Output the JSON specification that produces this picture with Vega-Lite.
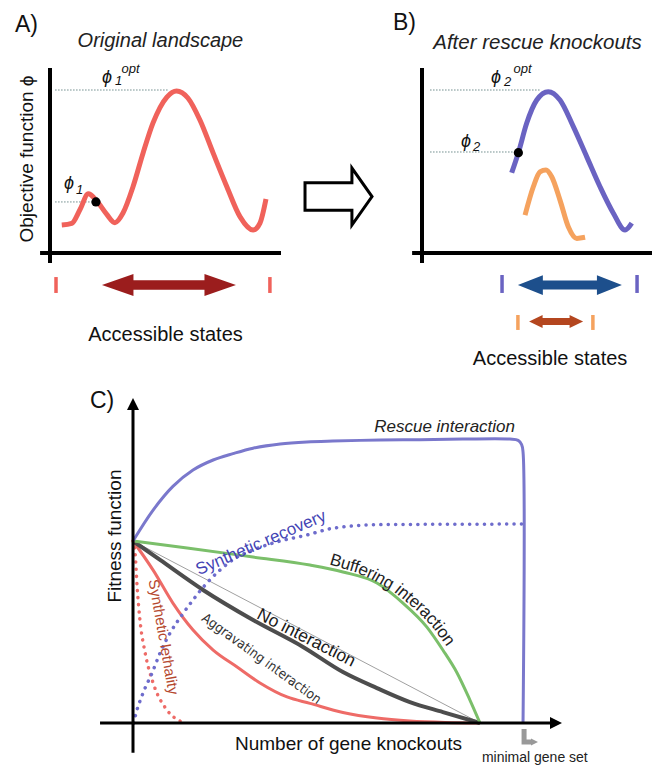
{
"$schema":"https://vega.github.io/schema/vega-lite/v6.json",
"width":652,"height":766,"autosize":{"type":"none"},"padding":0,
"background":"#ffffff",
"config":{"view":{"stroke":null},"font":"Liberation Sans"},
"resolve":{"scale":{"x":"independent","y":"independent"}},
"datasets":{
 "landscapeA":[{"x":0.51,"y":1.51},{"x":0.94,"y":1.6},{"x":1.3,"y":2.35},{"x":1.66,"y":3.2},{"x":2.0,"y":2.85},{"x":2.45,"y":2.1},{"x":2.81,"y":1.64},{"x":3.16,"y":2.16},{"x":3.59,"y":3.57},{"x":4.03,"y":5.41},{"x":4.46,"y":7.03},{"x":5.06,"y":8.43},{"x":5.48,"y":8.76},{"x":5.97,"y":8.38},{"x":6.49,"y":7.19},{"x":7.06,"y":5.41},{"x":7.66,"y":3.57},{"x":8.23,"y":1.95},{"x":8.79,"y":1.24},{"x":9.09,"y":1.62},{"x":9.35,"y":2.92}],
 "landscapeB":[
  {"curve":"main","x":3.9,"y":4.34},{"curve":"main","x":4.19,"y":5.42},{"curve":"main","x":4.55,"y":7.01},{"curve":"main","x":4.99,"y":8.27},{"curve":"main","x":5.49,"y":8.72},{"curve":"main","x":6.0,"y":8.27},{"curve":"main","x":6.58,"y":6.83},{"curve":"main","x":7.16,"y":5.21},{"curve":"main","x":7.74,"y":3.58},{"curve":"main","x":8.32,"y":2.15},{"curve":"main","x":8.83,"y":1.24},{"curve":"main","x":9.12,"y":1.61},
  {"curve":"knockout","x":4.48,"y":2.05},{"curve":"knockout","x":4.84,"y":3.58},{"curve":"knockout","x":5.13,"y":4.39},{"curve":"knockout","x":5.39,"y":4.49},{"curve":"knockout","x":5.64,"y":4.12},{"curve":"knockout","x":6.0,"y":2.86},{"curve":"knockout","x":6.36,"y":1.42},{"curve":"knockout","x":6.73,"y":0.79},{"curve":"knockout","x":7.09,"y":0.85}],
 "fitness":[
  {"curve":"rescue","i":0,"x":0,"y":1.0},{"curve":"rescue","i":1,"x":0.58,"y":1.17},{"curve":"rescue","i":2,"x":1.15,"y":1.3},{"curve":"rescue","i":3,"x":1.73,"y":1.39},{"curve":"rescue","i":4,"x":2.31,"y":1.445},{"curve":"rescue","i":5,"x":2.88,"y":1.48},{"curve":"rescue","i":6,"x":3.46,"y":1.51},{"curve":"rescue","i":7,"x":4.24,"y":1.533},{"curve":"rescue","i":8,"x":5.01,"y":1.544},{"curve":"rescue","i":9,"x":5.76,"y":1.549},{"curve":"rescue","i":10,"x":7.12,"y":1.555},{"curve":"rescue","i":11,"x":8.27,"y":1.557},{"curve":"rescue","i":12,"x":9.5,"y":1.56},{"curve":"rescue","i":13,"x":10.86,"y":1.56},{"curve":"rescue","i":14,"x":11.1,"y":1.553},{"curve":"rescue","i":15,"x":11.2,"y":1.53},{"curve":"rescue","i":16,"x":11.24,"y":1.49},{"curve":"rescue","i":17,"x":11.24,"y":0},
  {"curve":"recovery","i":0,"x":0.02,"y":0.0},{"curve":"recovery","i":1,"x":0.06,"y":0.033},{"curve":"recovery","i":2,"x":0.29,"y":0.165},{"curve":"recovery","i":3,"x":0.55,"y":0.275},{"curve":"recovery","i":4,"x":0.78,"y":0.385},{"curve":"recovery","i":5,"x":1.07,"y":0.495},{"curve":"recovery","i":6,"x":1.41,"y":0.593},{"curve":"recovery","i":7,"x":1.73,"y":0.676},{"curve":"recovery","i":8,"x":2.13,"y":0.769},{"curve":"recovery","i":9,"x":2.51,"y":0.841},{"curve":"recovery","i":10,"x":3.0,"y":0.912},{"curve":"recovery","i":11,"x":3.46,"y":0.951},{"curve":"recovery","i":12,"x":4.15,"y":0.995},{"curve":"recovery","i":13,"x":5.01,"y":1.033},{"curve":"recovery","i":14,"x":5.76,"y":1.07},{"curve":"recovery","i":15,"x":7.12,"y":1.09},{"curve":"recovery","i":16,"x":11.21,"y":1.093},
  {"curve":"buffering","i":0,"x":0,"y":1.0},{"curve":"buffering","i":1,"x":1.56,"y":0.962},{"curve":"buffering","i":2,"x":3.46,"y":0.912},{"curve":"buffering","i":3,"x":5.1,"y":0.868},{"curve":"buffering","i":4,"x":6.05,"y":0.83},{"curve":"buffering","i":5,"x":7.03,"y":0.769},{"curve":"buffering","i":6,"x":7.78,"y":0.659},{"curve":"buffering","i":7,"x":8.47,"y":0.527},{"curve":"buffering","i":8,"x":8.93,"y":0.401},{"curve":"buffering","i":9,"x":9.34,"y":0.275},{"curve":"buffering","i":10,"x":9.71,"y":0.126},{"curve":"buffering","i":11,"x":10,"y":0},
  {"curve":"none","i":0,"x":0,"y":1.0},{"curve":"none","i":1,"x":0.78,"y":0.896},{"curve":"none","i":2,"x":2.02,"y":0.731},{"curve":"none","i":3,"x":3.46,"y":0.566},{"curve":"none","i":4,"x":4.9,"y":0.418},{"curve":"none","i":5,"x":6.05,"y":0.28},{"curve":"none","i":6,"x":7.03,"y":0.192},{"curve":"none","i":7,"x":7.98,"y":0.115},{"curve":"none","i":8,"x":8.93,"y":0.06},{"curve":"none","i":9,"x":10,"y":0},
  {"curve":"additive","i":0,"x":0,"y":1.0},{"curve":"additive","i":1,"x":10,"y":0},
  {"curve":"aggravating","i":0,"x":0,"y":1.0},{"curve":"aggravating","i":1,"x":0.58,"y":0.84},{"curve":"aggravating","i":2,"x":1.15,"y":0.659},{"curve":"aggravating","i":3,"x":1.73,"y":0.511},{"curve":"aggravating","i":4,"x":2.31,"y":0.401},{"curve":"aggravating","i":5,"x":3.0,"y":0.308},{"curve":"aggravating","i":6,"x":3.66,"y":0.22},{"curve":"aggravating","i":7,"x":4.44,"y":0.143},{"curve":"aggravating","i":8,"x":5.1,"y":0.108},{"curve":"aggravating","i":9,"x":6.05,"y":0.058},{"curve":"aggravating","i":10,"x":7.03,"y":0.027},{"curve":"aggravating","i":11,"x":7.98,"y":0.011},{"curve":"aggravating","i":12,"x":9.0,"y":0.003},{"curve":"aggravating","i":13,"x":10,"y":0},
  {"curve":"lethality","i":0,"x":0,"y":1.0},{"curve":"lethality","i":1,"x":0.06,"y":0.934},{"curve":"lethality","i":2,"x":0.12,"y":0.747},{"curve":"lethality","i":3,"x":0.2,"y":0.566},{"curve":"lethality","i":4,"x":0.35,"y":0.385},{"curve":"lethality","i":5,"x":0.58,"y":0.22},{"curve":"lethality","i":6,"x":0.98,"y":0.071},{"curve":"lethality","i":7,"x":1.41,"y":0.005}
 ]
},
"layer":[
 {
  "encoding":{
   "x":{"field":"x","type":"quantitative","axis":null,"scale":{"domain":[0,10],"range":[50,281],"nice":false,"zero":false}},
   "y":{"field":"y","type":"quantitative","axis":null,"scale":{"domain":[0,10],"range":[253,68],"nice":false,"zero":false}}
  },
  "layer":[
   {"data":{"values":[{"x":0.22,"y":8.81,"x2":5.1,"y2":8.81},{"x":0.22,"y":2.76,"x2":1.85,"y2":2.76}]},"mark":{"type":"rule","color":"#6f8c8c","strokeWidth":1,"strokeDash":[1.5,1.5]},"encoding":{"x2":{"field":"x2"},"y2":{"field":"y2"}}},
   {"data":{"values":[{"x":0,"y":-0.54,"x2":0,"y2":10},{"x":-0.43,"y":0,"x2":10,"y2":0}]},"mark":{"type":"rule","color":"#000000","strokeWidth":4},"encoding":{"x2":{"field":"x2"},"y2":{"field":"y2"}}},
   {"data":{"name":"landscapeA"},"mark":{"type":"line","color":"#f0625b","strokeWidth":5,"interpolate":"monotone"}},
   {"data":{"values":[{"x":1.99,"y":2.76}]},"mark":{"type":"point","shape":"circle","filled":true,"color":"#000000","size":85,"opacity":1}},
   {"data":{"values":[{"x":0.26,"y":-1.3,"y2":-2.16},{"x":9.52,"y":-1.3,"y2":-2.16}]},"mark":{"type":"rule","color":"#f0625b","strokeWidth":3.5},"encoding":{"y2":{"field":"y2"}}},
   {"data":{"values":[{"x":5.15,"y":-1.73}]},"mark":{"type":"point","shape":"M-1,0L-0.53,-0.164L-0.53,-0.07L0.53,-0.07L0.53,-0.164L1,0L0.53,0.164L0.53,0.07L-0.53,0.07L-0.53,0.164Z","size":17956,"filled":true,"color":"#9b1d1d","opacity":1,"strokeWidth":0}},
   {"data":{"values":[{"x":12.49,"y":3.05}]},"mark":{"type":"point","shape":"M-1,-0.41L0.4,-0.41L0.4,-0.85L1,0L0.4,0.85L0.4,0.41L-1,0.41Z","size":4489,"filled":true,"fill":"#ffffff","stroke":"#000000","strokeWidth":3,"opacity":1,"fillOpacity":1}},
   {"data":{"values":[{"x":-1.52,"y":11.95,"t":"A)"}]},"mark":{"type":"text","align":"left","baseline":"alphabetic","fontSize":23,"color":"#111111"},"encoding":{"text":{"field":"t"}}},
   {"data":{"values":[{"x":4.78,"y":11.14,"t":"Original landscape"}]},"mark":{"type":"text","align":"center","baseline":"alphabetic","fontSize":20,"fontStyle":"italic","color":"#222222"},"encoding":{"text":{"field":"t"}}},
   {"data":{"values":[{"x":-0.74,"y":5.08,"t":"Objective function ϕ"}]},"mark":{"type":"text","align":"center","baseline":"alphabetic","angle":270,"fontSize":19,"color":"#111111"},"encoding":{"text":{"field":"t"}}},
   {"data":{"values":[{"x":5.0,"y":-4.76,"t":"Accessible states"}]},"mark":{"type":"text","align":"center","baseline":"alphabetic","fontSize":20,"color":"#111111"},"encoding":{"text":{"field":"t"}}},
   {"data":{"values":[{"x":2.25,"y":9.19,"t":"ϕ"},{"x":0.61,"y":3.46,"t":"ϕ"}]},"mark":{"type":"text","align":"left","baseline":"alphabetic","fontSize":18,"fontStyle":"italic","color":"#111111"},"encoding":{"text":{"field":"t"}}},
   {"data":{"values":[{"x":2.81,"y":9.08,"t":"1"},{"x":1.13,"y":3.19,"t":"1"}]},"mark":{"type":"text","align":"left","baseline":"alphabetic","fontSize":13,"fontStyle":"italic","color":"#111111"},"encoding":{"text":{"field":"t"}}},
   {"data":{"values":[{"x":3.1,"y":9.72,"t":"opt"}]},"mark":{"type":"text","align":"left","baseline":"alphabetic","fontSize":13,"fontStyle":"italic","color":"#111111"},"encoding":{"text":{"field":"t"}}}
  ]
 },
 {
  "encoding":{
   "x":{"field":"x","type":"quantitative","axis":null,"scale":{"domain":[0,10],"range":[422,652],"nice":false,"zero":false}},
   "y":{"field":"y","type":"quantitative","axis":null,"scale":{"domain":[0,10],"range":[253,68],"nice":false,"zero":false}}
  },
  "layer":[
   {"data":{"values":[{"x":0.35,"y":8.81,"x2":5.13,"y2":8.81},{"x":0.35,"y":5.46,"x2":4.04,"y2":5.46}]},"mark":{"type":"rule","color":"#6f8c8c","strokeWidth":1,"strokeDash":[1.5,1.5]},"encoding":{"x2":{"field":"x2"},"y2":{"field":"y2"}}},
   {"data":{"values":[{"x":0,"y":-0.54,"x2":0,"y2":10},{"x":-0.43,"y":0,"x2":10,"y2":0}]},"mark":{"type":"rule","color":"#000000","strokeWidth":4},"encoding":{"x2":{"field":"x2"},"y2":{"field":"y2"}}},
   {"data":{"name":"landscapeB"},"transform":[{"filter":"datum.curve === 'main'"}],"mark":{"type":"line","color":"#6a63c2","strokeWidth":5,"interpolate":"monotone"}},
   {"data":{"name":"landscapeB"},"transform":[{"filter":"datum.curve === 'knockout'"}],"mark":{"type":"line","color":"#f5a25e","strokeWidth":5,"interpolate":"monotone"}},
   {"data":{"values":[{"x":4.19,"y":5.42}]},"mark":{"type":"point","shape":"circle","filled":true,"color":"#000000","size":85,"opacity":1}},
   {"data":{"values":[{"x":3.48,"y":-1.19,"y2":-2.16},{"x":9.35,"y":-1.19,"y2":-2.16}]},"mark":{"type":"rule","color":"#6a63c2","strokeWidth":3.5},"encoding":{"y2":{"field":"y2"}}},
   {"data":{"values":[{"x":4.17,"y":-3.35,"y2":-4.16},{"x":7.43,"y":-3.35,"y2":-4.16}]},"mark":{"type":"rule","color":"#f5a25e","strokeWidth":3.5},"encoding":{"y2":{"field":"y2"}}},
   {"data":{"values":[{"x":6.43,"y":-1.73}]},"mark":{"type":"point","shape":"M-1,0L-0.52,-0.19L-0.52,-0.087L0.52,-0.087L0.52,-0.19L1,0L0.52,0.19L0.52,0.087L-0.52,0.087L-0.52,0.19Z","size":10816,"filled":true,"color":"#1d4f8c","opacity":1,"strokeWidth":0}},
   {"data":{"values":[{"x":5.83,"y":-3.7}]},"mark":{"type":"point","shape":"M-1,0L-0.5,-0.24L-0.5,-0.13L0.5,-0.13L0.5,-0.24L1,0L0.5,0.24L0.5,0.13L-0.5,0.13L-0.5,0.24Z","size":2916,"filled":true,"color":"#b4461f","opacity":1,"strokeWidth":0}},
   {"data":{"values":[{"x":-1.26,"y":12.05,"t":"B)"}]},"mark":{"type":"text","align":"left","baseline":"alphabetic","fontSize":23,"color":"#111111"},"encoding":{"text":{"field":"t"}}},
   {"data":{"values":[{"x":5.02,"y":11.03,"t":"After rescue knockouts"}]},"mark":{"type":"text","align":"center","baseline":"alphabetic","fontSize":20.5,"fontStyle":"italic","color":"#222222"},"encoding":{"text":{"field":"t"}}},
   {"data":{"values":[{"x":5.57,"y":-6.05,"t":"Accessible states"}]},"mark":{"type":"text","align":"center","baseline":"alphabetic","fontSize":20,"color":"#111111"},"encoding":{"text":{"field":"t"}}},
   {"data":{"values":[{"x":3.0,"y":9.19,"t":"ϕ"},{"x":1.7,"y":5.73,"t":"ϕ"}]},"mark":{"type":"text","align":"left","baseline":"alphabetic","fontSize":18,"fontStyle":"italic","color":"#111111"},"encoding":{"text":{"field":"t"}}},
   {"data":{"values":[{"x":3.57,"y":9.03,"t":"2"},{"x":2.22,"y":5.51,"t":"2"}]},"mark":{"type":"text","align":"left","baseline":"alphabetic","fontSize":13,"fontStyle":"italic","color":"#111111"},"encoding":{"text":{"field":"t"}}},
   {"data":{"values":[{"x":3.98,"y":9.72,"t":"opt"}]},"mark":{"type":"text","align":"left","baseline":"alphabetic","fontSize":13,"fontStyle":"italic","color":"#111111"},"encoding":{"text":{"field":"t"}}}
  ]
 },
 {
  "encoding":{
   "x":{"field":"x","type":"quantitative","axis":null,"scale":{"domain":[0,10],"range":[133,480],"nice":false,"zero":false}},
   "y":{"field":"y","type":"quantitative","axis":null,"scale":{"domain":[0,1],"range":[723,541],"nice":false,"zero":false}}
  },
  "layer":[
   {"data":{"name":"fitness"},"transform":[{"filter":"datum.curve === 'additive'"}],"mark":{"type":"line","color":"#a0a0a0","strokeWidth":1},"encoding":{"order":{"field":"i"}}},
   {"data":{"name":"fitness"},"transform":[{"filter":"datum.curve === 'aggravating'"}],"mark":{"type":"line","color":"#ee6b67","strokeWidth":3,"interpolate":"monotone"},"encoding":{"order":{"field":"i"}}},
   {"data":{"name":"fitness"},"transform":[{"filter":"datum.curve === 'none'"}],"mark":{"type":"line","color":"#4d4d4d","strokeWidth":4,"interpolate":"monotone"},"encoding":{"order":{"field":"i"}}},
   {"data":{"name":"fitness"},"transform":[{"filter":"datum.curve === 'buffering'"}],"mark":{"type":"line","color":"#7bbf6a","strokeWidth":3,"interpolate":"monotone"},"encoding":{"order":{"field":"i"}}},
   {"data":{"name":"fitness"},"transform":[{"filter":"datum.curve === 'lethality'"}],"mark":{"type":"line","color":"#ee6b67","strokeWidth":3.5,"strokeDash":[0.1,7],"strokeCap":"round","interpolate":"monotone"},"encoding":{"order":{"field":"i"}}},
   {"data":{"name":"fitness"},"transform":[{"filter":"datum.curve === 'recovery'"}],"mark":{"type":"line","color":"#6e6ccc","strokeWidth":3.5,"strokeDash":[0.1,7.3],"strokeCap":"round","interpolate":"monotone"},"encoding":{"order":{"field":"i"}}},
   {"data":{"name":"fitness"},"transform":[{"filter":"datum.curve === 'rescue'"}],"mark":{"type":"line","color":"#7a78cc","strokeWidth":3,"interpolate":"catmull-rom"},"encoding":{"order":{"field":"i"}}},
   {"data":{"values":[{"x":11.27,"y":-0.033,"i":0},{"x":11.27,"y":-0.104,"i":1},{"x":11.47,"y":-0.104,"i":2}]},"mark":{"type":"line","color":"#999999","strokeWidth":5},"encoding":{"order":{"field":"i"}}},
   {"data":{"values":[{"x":11.57,"y":-0.104}]},"mark":{"type":"point","shape":"M1,0L-1,-1L-1,1Z","size":49,"filled":true,"color":"#999999","opacity":1,"strokeWidth":0}},
   {"data":{"values":[{"x":0,"y":-0.164,"x2":0,"y2":1.72},{"x":-0.95,"y":0,"x2":12.02,"y2":0}]},"mark":{"type":"rule","color":"#000000","strokeWidth":3},"encoding":{"x2":{"field":"x2"},"y2":{"field":"y2"}}},
   {"data":{"values":[{"x":0,"y":1.753}]},"mark":{"type":"point","shape":"M0,-1L1,1L-1,1Z","size":144,"filled":true,"color":"#000000","opacity":1,"strokeWidth":0}},
   {"data":{"values":[{"x":12.19,"y":0}]},"mark":{"type":"point","shape":"M1,0L-1,-1L-1,1Z","size":144,"filled":true,"color":"#000000","opacity":1,"strokeWidth":0}},
   {"data":{"values":[{"x":-1.24,"y":1.73,"t":"C)"}]},"mark":{"type":"text","align":"left","baseline":"alphabetic","fontSize":23,"color":"#111111"},"encoding":{"text":{"field":"t"}}},
   {"data":{"values":[{"x":-0.35,"y":1.027,"t":"Fitness function"}]},"mark":{"type":"text","align":"center","baseline":"alphabetic","angle":270,"fontSize":19,"color":"#111111"},"encoding":{"text":{"field":"t"}}},
   {"data":{"values":[{"x":6.21,"y":-0.148,"t":"Number of gene knockouts"}]},"mark":{"type":"text","align":"center","baseline":"alphabetic","fontSize":19,"color":"#111111"},"encoding":{"text":{"field":"t"}}},
   {"data":{"values":[{"x":11.58,"y":-0.214,"t":"minimal gene set"}]},"mark":{"type":"text","align":"center","baseline":"alphabetic","fontSize":14,"color":"#222222"},"encoding":{"text":{"field":"t"}}},
   {"data":{"values":[{"x":8.98,"y":1.599,"t":"Rescue interaction"}]},"mark":{"type":"text","align":"center","baseline":"alphabetic","fontSize":17,"fontStyle":"italic","color":"#222222"},"encoding":{"text":{"field":"t"}}},
   {"data":{"values":[{"x":3.69,"y":0.989,"t":"Synthetic recovery"}]},"mark":{"type":"text","align":"center","baseline":"middle","angle":-23.4,"fontSize":17,"color":"#4343b4"},"encoding":{"text":{"field":"t"}}},
   {"data":{"values":[{"x":4.99,"y":0.467,"t":"No interaction"}]},"mark":{"type":"text","align":"center","baseline":"middle","angle":27,"fontSize":17.5,"color":"#1a1a1a"},"encoding":{"text":{"field":"t"}}},
   {"data":{"values":[{"x":3.7,"y":0.352,"t":"Aggravating interaction"}]},"mark":{"type":"text","align":"center","baseline":"middle","angle":36,"fontSize":13.5,"font":"DejaVu Sans Condensed, Liberation Sans","color":"#333333"},"encoding":{"text":{"field":"t"}}},
   {"data":{"values":[{"x":0.88,"y":0.473,"t":"Synthetic lethality"}]},"mark":{"type":"text","align":"center","baseline":"middle","angle":80,"fontSize":15,"color":"#b5482e"},"encoding":{"text":{"field":"t"}}},
   {"data":{"values":[{"x":6.101,"y":0.8747,"t":"Buff"}]},"mark":{"type":"text","align":"center","baseline":"middle","angle":16.6,"fontSize":17,"color":"#222222"},"encoding":{"text":{"field":"t"}}},
   {"data":{"values":[{"x":6.712,"y":0.8324,"t":"er"}]},"mark":{"type":"text","align":"center","baseline":"middle","angle":23.5,"fontSize":17,"color":"#222222"},"encoding":{"text":{"field":"t"}}},
   {"data":{"values":[{"x":7.202,"y":0.7863,"t":"ing"}]},"mark":{"type":"text","align":"center","baseline":"middle","angle":29.2,"fontSize":17,"color":"#222222"},"encoding":{"text":{"field":"t"}}},
   {"data":{"values":[{"x":7.977,"y":0.6857,"t":"inter"}]},"mark":{"type":"text","align":"center","baseline":"middle","angle":39.1,"fontSize":17,"color":"#222222"},"encoding":{"text":{"field":"t"}}},
   {"data":{"values":[{"x":8.562,"y":0.5808,"t":"act"}]},"mark":{"type":"text","align":"center","baseline":"middle","angle":47.5,"fontSize":17,"color":"#222222"},"encoding":{"text":{"field":"t"}}},
   {"data":{"values":[{"x":8.974,"y":0.4841,"t":"ion"}]},"mark":{"type":"text","align":"center","baseline":"middle","angle":54.4,"fontSize":17,"color":"#222222"},"encoding":{"text":{"field":"t"}}}
  ]
 }
]
}
